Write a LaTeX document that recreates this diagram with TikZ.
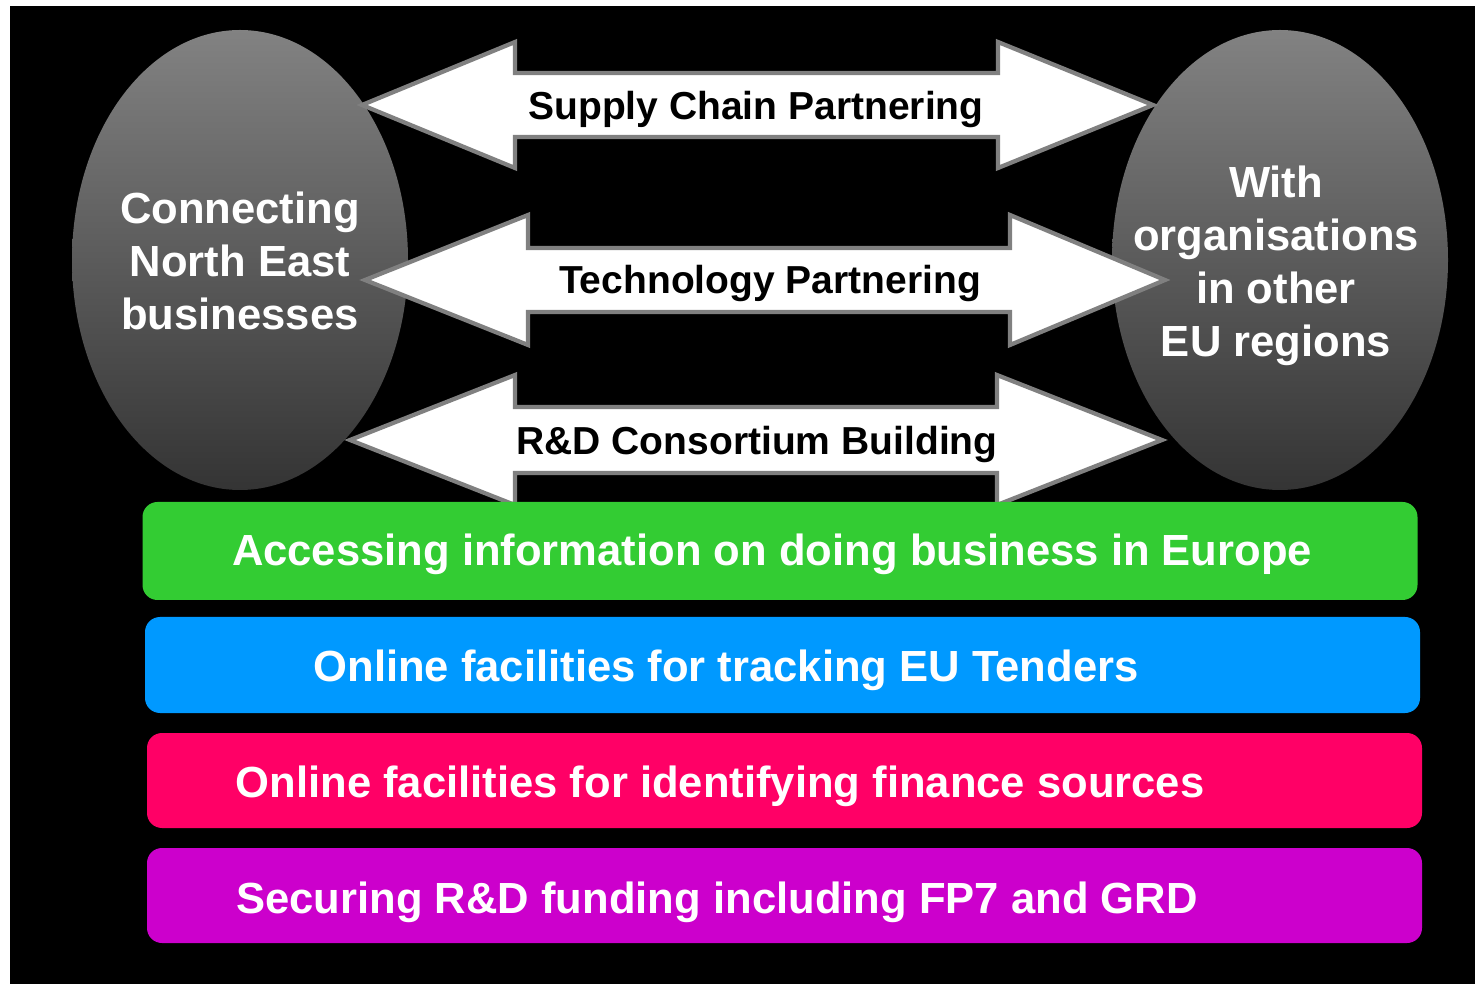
\documentclass[tikz,border=0pt]{standalone}
\usepackage{fontspec}
\setmainfont{Liberation Sans}
\usepackage{tikz}
\usetikzlibrary{shapes.geometric}

\definecolor{verde}{HTML}{33CC33}
\definecolor{azzurro}{HTML}{0099FF}
\definecolor{rosso}{HTML}{FF0066}
\definecolor{viola}{HTML}{CC00CC}
\definecolor{bordo}{HTML}{808080}

\begin{document}
\begin{tikzpicture}[
                % ovali grigi con sfumatura
                ovale/.style={
                    ellipse,
                    minimum width=3.36cm,
                    minimum height=4.60cm,
                    shading=axis,
                    top color={rgb,255:red,130;green,130;blue,130},
                    bottom color={rgb,255:red,52;green,52;blue,52},
                    inner sep=0pt
                },
                % testo bianco negli ovali
                testoovale/.style={
                    text=white,
                    align=center,
                    font=\bfseries\fontsize{12.4}{15.1}\selectfont
                },
                % frecce doppie bianche
                freccia/.style={
                    draw=bordo,
                    fill=white,
                    line width=1.2pt
                },
                etichetta/.style={
                    text=black,
                    font=\bfseries\fontsize{11.1}{13}\selectfont
                },
                % barre colorate
                barra/.style={
                    rectangle,
                    rounded corners=0.15cm,
                    minimum width=12.75cm,
                    inner sep=0pt
                },
                testobarra/.style={
                    text=white,
                    font=\bfseries\fontsize{12.4}{15}\selectfont
                }
            ]

                % 0. Sfondo
                \useasboundingbox (0,0) rectangle (14.75,9.84);
                \fill[white] (0,0) rectangle (14.75,9.84);
                \fill[black] (0.10,0) rectangle (14.75,9.78);

                % 1. Ovali
                \node [ovale] (sinistra) at (2.40,7.24) {};
                \node [ovale] (destra) at (12.80,7.24) {};
                \node [testoovale] (tsinistra) at (2.40,7.23) {Connecting\\North East\\businesses};
                \node [testoovale] (tdestra) at (12.76,7.18) {With\\organisations\\in other\\EU regions};

                % 2. Frecce doppie
                \draw [freccia] (3.62,8.79) -- (5.15,9.42) -- (5.15,9.11) -- (9.98,9.11) -- (9.98,9.42)
                    -- (11.53,8.79) -- (9.98,8.16) -- (9.98,8.47) -- (5.15,8.47) -- (5.15,8.16) -- cycle;
                \node [etichetta] (fornitura) at (7.56,8.74) {Supply Chain Partnering};

                \draw [freccia] (3.65,7.04) -- (5.28,7.69) -- (5.28,7.36) -- (10.10,7.36) -- (10.10,7.69)
                    -- (11.65,7.04) -- (10.10,6.39) -- (10.10,6.72) -- (5.28,6.72) -- (5.28,6.39) -- cycle;
                \node [etichetta] (tecnologia) at (7.70,7.00) {Technology Partnering};

                \draw [freccia] (3.50,5.44) -- (5.15,6.09) -- (5.15,5.77) -- (9.97,5.77) -- (9.97,6.09)
                    -- (11.62,5.44) -- (9.97,4.79) -- (9.97,5.11) -- (5.15,5.11) -- (5.15,4.79) -- cycle;
                \node [etichetta] (consorzio) at (7.57,5.39) {R\&D Consortium Building};

                % 3. Barre colorate
                \node [barra, fill=verde, minimum height=0.98cm] (verde) at (7.80,4.33) {};
                \node [barra, fill=azzurro, minimum height=0.96cm] (azzurro) at (7.825,3.19) {};
                \node [barra, fill=rosso, minimum height=0.95cm] (rosso) at (7.845,2.035) {};
                \node [barra, fill=viola, minimum height=0.95cm] (viola) at (7.845,0.885) {};

                \node [testobarra] (tverde) at ([xshift=-0.08cm,yshift=-0.03cm]verde.center) {Accessing information on doing business in Europe};
                \node [testobarra] (tazzurro) at ([xshift=-0.565cm,yshift=-0.05cm]azzurro.center) {Online facilities for tracking EU Tenders};
                \node [testobarra] (trosso) at ([xshift=-0.645cm,yshift=-0.06cm]rosso.center) {Online facilities for identifying finance sources};
                \node [testobarra] (tviola) at ([xshift=-0.675cm,yshift=-0.07cm]viola.center) {Securing R\&D funding including FP7 and GRD};

            \end{tikzpicture}
\end{document}
